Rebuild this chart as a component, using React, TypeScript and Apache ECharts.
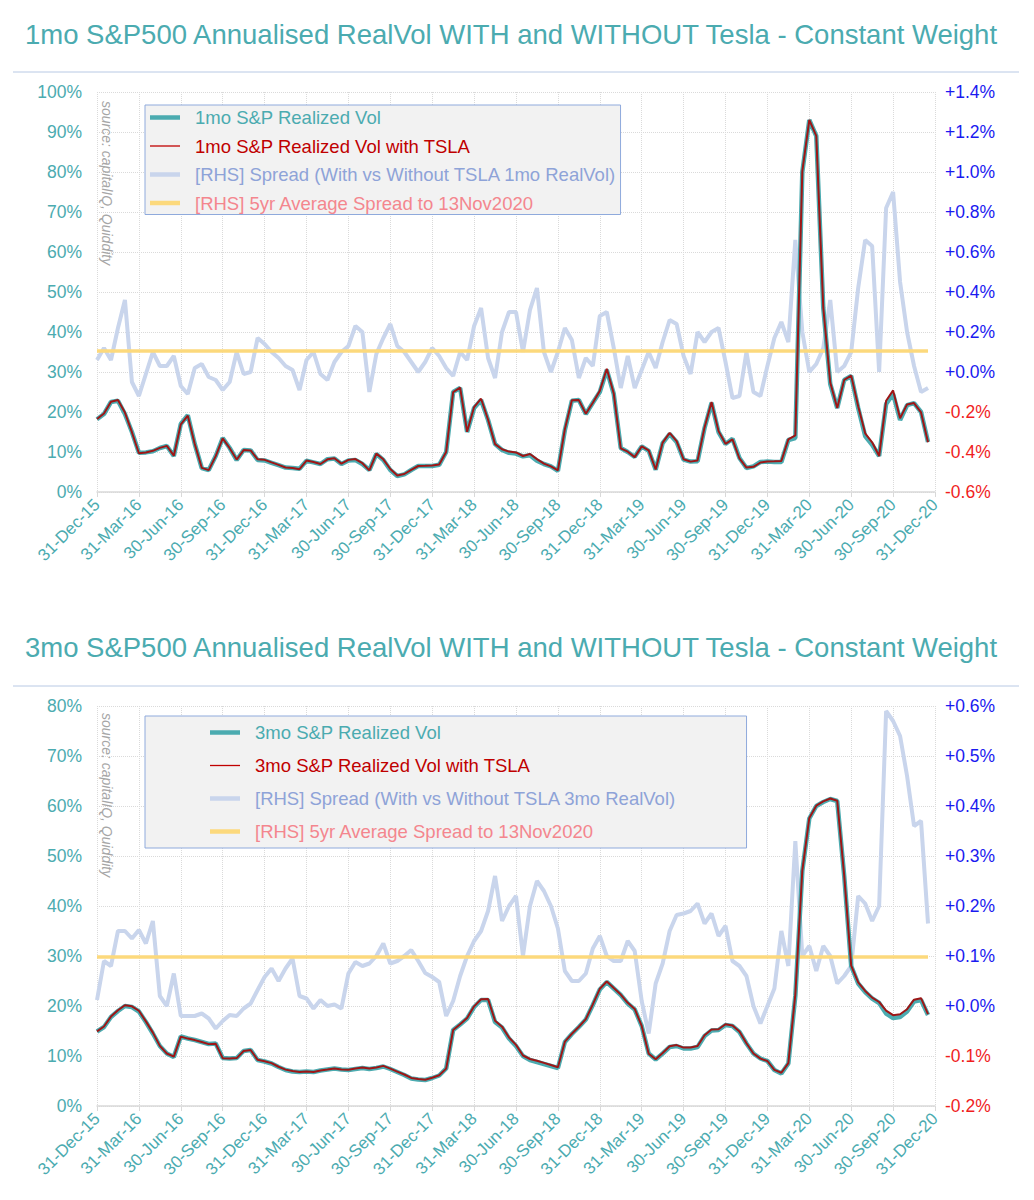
import { useEffect, useRef } from 'react';
import * as echarts from 'echarts';

// Quarter-end tick labels (x axis, one per quarter)
const quarterLabels = [
  '31-Dec-15', '31-Mar-16', '30-Jun-16', '30-Sep-16', '31-Dec-16', '31-Mar-17', '30-Jun-17',
  '30-Sep-17', '31-Dec-17', '31-Mar-18', '30-Jun-18', '30-Sep-18', '31-Dec-18', '31-Mar-19',
  '30-Jun-19', '30-Sep-19', '31-Dec-19', '31-Mar-20', '30-Jun-20', '30-Sep-20', '31-Dec-20',
];

// samples are taken every 1/6 of a quarter (~15 days), starting 31-Dec-15
const SAMPLES_PER_QUARTER = 6;

// 1mo S&P realized vol (without TSLA), %
const vol1mo = [
  18.2, 19.5, 22.5, 22.8, 19.5, 15,
  9.8, 9.9, 10.2, 11, 11.5, 9,
  17, 19.2, 12, 6, 5.5, 9,
  13.5, 11, 8, 10.5, 10.4, 8,
  7.9, 7.3, 6.7, 6.1, 6, 5.8,
  7.8, 7.4, 7, 8.2, 8.4, 7,
  7.9, 8, 7, 5.5, 9.5, 8,
  5.5, 4, 4.4, 5.5, 6.5, 6.5,
  6.5, 6.8, 10, 25, 26, 15,
  21, 23, 18, 12, 10.5, 9.8,
  9.6, 8.9, 9.2, 7.8, 7, 6.4,
  5.3, 15.5, 22.8, 23, 19.5, 22.3,
  25, 30.5, 24.5, 11, 10, 8.8,
  11.4, 10.3, 5.6, 12.2, 14.5, 12.5,
  8.1, 7.6, 7.7, 16, 22.3, 15,
  12, 13.3, 8.5, 6, 6.4, 7.5,
  7.6, 7.5, 7.5, 13, 13.5, 80,
  93, 89, 46, 27, 21, 28,
  29, 21, 14, 11.8, 9, 22,
  24.5, 18, 21.7, 22.2, 20, 12.5,
];

// [RHS] 1mo spread, with vs without TSLA, percentage points
const spread1mo = [
  0.06, 0.12, 0.06, 0.22, 0.36, -0.05,
  -0.12, -0.01, 0.1, 0.03, 0.03, 0.08,
  -0.07, -0.11, 0.02, 0.04, -0.025, -0.04,
  -0.09, -0.05, 0.1, -0.01, 0.0, 0.17,
  0.14, 0.1, 0.07, 0.03, 0.01, -0.09,
  0.06, 0.1, -0.01, -0.04, 0.05, 0.1,
  0.13, 0.23, 0.2, -0.1, 0.09, 0.17,
  0.24, 0.13, 0.1, 0.05, 0.0, 0.05,
  0.12, 0.08, 0.02, -0.02, 0.1, 0.06,
  0.23, 0.32, 0.07, -0.03, 0.2, 0.3,
  0.3, 0.1, 0.31, 0.42, 0.1, 0.0,
  0.1, 0.22, 0.16, -0.03, 0.07, 0.03,
  0.28, 0.3, 0.12, -0.08, 0.08, -0.08,
  0.01, 0.1, 0.02, 0.15, 0.26, 0.24,
  0.08, -0.01, 0.2, 0.15, 0.2, 0.22,
  0.05, -0.13, -0.12, 0.1, -0.1, -0.12,
  0.03, 0.17, 0.25, 0.15, 0.66, 0.2,
  0.0, 0.04, 0.12, 0.36, 0.0, 0.03,
  0.1, 0.42, 0.66, 0.63, 0.0, 0.82,
  0.9, 0.45, 0.2, 0.03, -0.1, -0.08,
];
const avgSpread1mo = 0.105;

// 3mo S&P realized vol (without TSLA), %
const vol3mo = [
  14.9, 15.8, 17.8, 19, 20, 19.8,
  18.9, 16.8, 14.5, 12, 10.5, 9.8,
  13.9, 13.5, 13.2, 12.8, 12.4, 12.5,
  9.6, 9.5, 9.6, 11, 11.2, 9.2,
  8.9, 8.5, 7.8, 7.2, 6.9, 6.8,
  6.9, 6.8, 7.1, 7.3, 7.5, 7.3,
  7.2, 7.4, 7.6, 7.4, 7.6, 7.9,
  7.4, 6.8, 6.2, 5.5, 5.3, 5.2,
  5.6, 6.1, 7.5, 15.2, 16.3, 17.5,
  19.8, 21.2, 21.2, 16.8, 15.7, 13.5,
  12, 10, 9.2, 8.8, 8.4, 8,
  7.6, 12.8, 14.4, 15.8, 17.3, 20.2,
  23.3, 24.8, 23.5, 22.2, 20.5, 19.3,
  16, 10.5, 9.3, 10.5, 11.8, 12,
  11.5, 11.5, 11.8, 14, 15.1, 15.2,
  16.2, 16, 14.8, 12.5, 10.5, 9.5,
  9, 7.2, 6.5, 8.5, 22, 47,
  57.5, 60, 60.8, 61.4, 61, 46,
  28, 24.5, 22.8, 21.5, 20.6, 18.5,
  17.6, 17.8, 18.9, 20.9, 21.2, 18.2,
];

// [RHS] 3mo spread, with vs without TSLA, percentage points
const spread3mo = [
  0.012, 0.09, 0.08, 0.15, 0.15, 0.135,
  0.152, 0.125, 0.17, 0.02, 0.0, 0.065,
  -0.02, -0.02, -0.02, -0.015, -0.025, -0.045,
  -0.03, -0.018, -0.02, -0.005, 0.005, 0.032,
  0.058, 0.075, 0.05, 0.075, 0.095, 0.02,
  0.015, -0.005, 0.012, 0.0, 0.003, -0.005,
  0.065, 0.088, 0.08, 0.085, 0.1, 0.125,
  0.085, 0.09, 0.1, 0.112, 0.09, 0.066,
  0.058, 0.048, -0.02, 0.01, 0.06, 0.1,
  0.13, 0.15, 0.19, 0.26, 0.17, 0.2,
  0.22, 0.1, 0.2, 0.25, 0.23, 0.2,
  0.155, 0.07, 0.05, 0.05, 0.065, 0.115,
  0.14, 0.1, 0.09, 0.09, 0.13, 0.11,
  0.01, -0.055, 0.045, 0.085, 0.15, 0.182,
  0.185, 0.19, 0.205, 0.165, 0.185, 0.14,
  0.16, 0.09, 0.08, 0.06, 0.0, -0.035,
  0.0, 0.035, 0.15, 0.08, 0.33, 0.1,
  0.12, 0.07, 0.12, 0.1, 0.045, 0.06,
  0.08, 0.22, 0.205, 0.17, 0.2, 0.59,
  0.57, 0.54, 0.46, 0.36, 0.37, 0.165,
];
const avgSpread3mo = 0.098;

const titles = [
  '1mo S&P500 Annualised RealVol WITH and WITHOUT Tesla - Constant Weight',
  '3mo S&P500 Annualised RealVol WITH and WITHOUT Tesla - Constant Weight',
];
const sourceText = 'source: capitalIQ, Quiddity';

const FONT = '"Liberation Sans", Arial, sans-serif';
const TEAL = '#4BABB0';
const RED = '#C00000';
const RED_LINE = '#9E1616';
const SPREAD = '#C9D5EC';
const SPREAD_TEXT = '#8EA3D8';
const AVG = '#FCD97C';
const AVG_TEXT = '#F4868E';

const pts = (arr: number[]) => arr.map((v, i) => [i / SAMPLES_PER_QUARTER, v]);
const withTsla = (vol: number[], spr: number[]) =>
  vol.map((v, i) => [i / SAMPLES_PER_QUARTER, +(v + spr[i]).toFixed(3)]);
const flat = (avg: number, n: number) => [[0, avg], [(n - 1) / SAMPLES_PER_QUARTER, avg]];

// legend icon: a horizontal bar of given thickness (aspect kept by the legend)
const bar = (h: number) => `path://M0,0 L30,0 L30,${h} L0,${h} Z`;

function xAxis(gridIndex: number) {
  return {
    type: 'value', gridIndex, min: 0, max: 20, interval: 1,
    axisLine: { show: true, lineStyle: { color: '#D9D9D9', width: 1.5 } },
    axisTick: { show: true, length: 5, lineStyle: { color: '#D9D9D9' } },
    axisLabel: {
      rotate: 45, color: TEAL, fontSize: 17, fontFamily: FONT, margin: 10,
      showMinLabel: true, showMaxLabel: true,
      formatter: (v: number) => quarterLabels[Math.round(v)] ?? '',
    },
    splitLine: { show: true, lineStyle: { color: '#DADADA', type: 'dotted' } },
  };
}

function leftAxis(gridIndex: number, max: number) {
  return {
    type: 'value', gridIndex, position: 'left', min: 0, max, interval: 10,
    axisLine: { show: false }, axisTick: { show: false },
    axisLabel: { color: TEAL, fontSize: 17.5, fontFamily: FONT, margin: 15, formatter: '{value}%' },
    splitLine: { show: true, lineStyle: { color: '#DADADA', type: 'dotted' } },
  };
}

function rightAxis(gridIndex: number, min: number, max: number, interval: number) {
  return {
    type: 'value', gridIndex, position: 'right', min, max, interval,
    axisLine: { show: false }, axisTick: { show: false }, splitLine: { show: false },
    axisLabel: {
      margin: 10,
      formatter: (v: number) => {
        const r = Math.round(v * 10) / 10;
        return r >= -1e-9 ? `{p|+${Math.abs(r).toFixed(1)}%}` : `{n|${r.toFixed(1)}%}`;
      },
      rich: {
        p: { color: '#1A1AF0', fontSize: 17.5, fontFamily: FONT },
        n: { color: '#F01E1E', fontSize: 17.5, fontFamily: FONT },
      },
    },
  };
}

function seriesFor(tag: string, vol: number[], spr: number[], avg: number, xi: number, yl: number, yr: number) {
  return [
    {
      name: `[RHS] Spread (With vs Without TSLA ${tag} RealVol)`, type: 'line', xAxisIndex: xi, yAxisIndex: yr,
      data: pts(spr), symbol: 'none', lineStyle: { color: SPREAD, width: 4 }, itemStyle: { color: SPREAD }, z: 1,
    },
    {
      name: '[RHS] 5yr Average Spread to 13Nov2020', type: 'line', xAxisIndex: xi, yAxisIndex: yr,
      data: flat(avg, spr.length), symbol: 'none', lineStyle: { color: AVG, width: 3.5 }, itemStyle: { color: AVG }, z: 2,
    },
    {
      name: `${tag} S&P Realized Vol`, type: 'line', xAxisIndex: xi, yAxisIndex: yl,
      data: pts(vol), symbol: 'none', lineStyle: { color: TEAL, width: 4.5 }, itemStyle: { color: TEAL }, z: 3,
    },
    {
      name: `${tag} S&P Realized Vol with TSLA`, type: 'line', xAxisIndex: xi, yAxisIndex: yl,
      data: withTsla(vol, spr), symbol: 'none', lineStyle: { color: RED_LINE, width: 2 }, itemStyle: { color: RED_LINE }, z: 4,
    },
  ];
}

function legendFor(tag: string, top: number, padding: number[], itemGap: number) {
  return {
    orient: 'vertical', left: 145, top, padding, itemGap, itemWidth: 30, itemHeight: 14,
    symbolKeepAspect: true,
    backgroundColor: '#F2F2F2', borderColor: '#8FAADC', borderWidth: 1, selectedMode: false,
    textStyle: { fontSize: 18.5, fontFamily: FONT, padding: [0, 0, 0, 10] },
    data: [
      { name: `${tag} S&P Realized Vol`, icon: bar(4.5), itemStyle: { color: TEAL }, textStyle: { color: TEAL } },
      { name: `${tag} S&P Realized Vol with TSLA`, icon: bar(1.3), itemStyle: { color: RED }, textStyle: { color: RED } },
      { name: `[RHS] Spread (With vs Without TSLA ${tag} RealVol)`, icon: bar(4.5), itemStyle: { color: SPREAD }, textStyle: { color: SPREAD_TEXT } },
      { name: '[RHS] 5yr Average Spread to 13Nov2020', icon: bar(4.5), itemStyle: { color: AVG }, textStyle: { color: AVG_TEXT } },
    ],
  };
}

function sourceLabel(y: number) {
  return {
    type: 'text', x: 107, y, rotation: -Math.PI / 2, z: 100,
    style: { text: sourceText, fill: '#A6A6A6', font: `italic 14px ${FONT}`, textAlign: 'left', textVerticalAlign: 'middle' },
  };
}

function ruleLine(y: number) {
  return { type: 'line', shape: { x1: 13, y1: y, x2: 1019, y2: y }, style: { stroke: '#B8C9E4', lineWidth: 1 } };
}

const option = {
  animation: false,
  backgroundColor: '#FFFFFF',
  title: [
    { text: titles[0], left: 506, top: 15, textAlign: 'center', textStyle: { color: TEAL, fontSize: 27.5, fontWeight: 'normal', fontFamily: FONT } },
    { text: titles[1], left: 506, top: 628, textAlign: 'center', textStyle: { color: TEAL, fontSize: 27.5, fontWeight: 'normal', fontFamily: FONT } },
  ],
  grid: [
    { left: 97, top: 92, width: 838, height: 400 },
    { left: 97, top: 706, width: 838, height: 400 },
  ],
  xAxis: [xAxis(0), xAxis(1)],
  yAxis: [leftAxis(0, 100), rightAxis(0, -0.6, 1.4, 0.2), leftAxis(1, 80), rightAxis(1, -0.2, 0.6, 0.1)],
  legend: [legendFor('1mo', 105, [3, 4, 2, 5], 9.5), legendFor('3mo', 716, [7, 70, 7, 65], 14)],
  series: [
    ...seriesFor('1mo', vol1mo, spread1mo, avgSpread1mo, 0, 0, 1),
    ...seriesFor('3mo', vol3mo, spread3mo, avgSpread3mo, 1, 2, 3),
  ],
  graphic: [ruleLine(72), ruleLine(686), sourceLabel(101), sourceLabel(713)],
};

export default function App() {
  const ref = useRef<HTMLDivElement>(null);
  useEffect(() => {
    document.body.style.margin = '0';
    const chart = echarts.init(ref.current!, null, { renderer: 'svg' });
    chart.setOption(option as any);
    return () => chart.dispose();
  }, []);
  return <div ref={ref} style={{ width: 1034, height: 1200 }} />;
}
